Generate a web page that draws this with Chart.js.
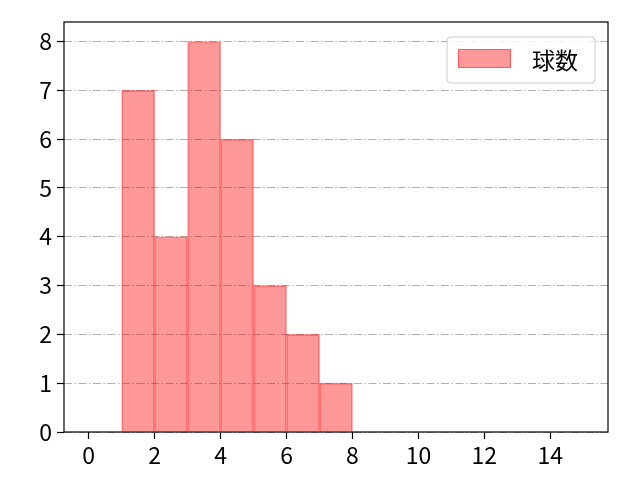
<!DOCTYPE html>
<html>
<head>
<meta charset="utf-8">
<script src="https://cdn.jsdelivr.net/npm/chart.js@4.4.1/dist/chart.umd.min.js"></script>
<style>
html,body{margin:0;padding:0;background:#fff;}
canvas{display:block;}
</style>
</head>
<body>
<canvas id="c" width="640" height="480"></canvas>
<script>
// Data
const binStarts = [1, 2, 3, 4, 5, 6, 7];
const counts = [7, 4, 8, 6, 3, 2, 1];
const seriesLabel = '球数';
const xTicks = [0, 2, 4, 6, 8, 10, 12, 14];
const yTicks = [0, 1, 2, 3, 4, 5, 6, 7, 8];
const xRange = [-0.75, 15.75];
const yRange = [0, 8.4];

const FONT = '"Noto Sans CJK JP", "Noto Sans", sans-serif';
const FSIZE = 23;
const fillCol = 'rgba(255,0,0,0.4)';
const edgeCol = 'rgba(255,0,0,0.42)';

const points = binStarts.map((s, i) => ({ x: s + 0.5, y: counts[i] }));

const framePlugin = {
  id: 'frame',
  afterDatasetsDraw(chart) {
    const { ctx, chartArea: a } = chart;
    ctx.save();
    ctx.strokeStyle = '#000';
    ctx.lineWidth = 1.2;
    ctx.strokeRect(a.left, a.top, a.right - a.left, a.bottom - a.top);
    // legend
    const w = 148, h = 46;
    const lx = a.right - 13 - w, ly = a.top + 15;
    ctx.beginPath();
    ctx.roundRect(lx, ly, w, h, 4);
    ctx.fillStyle = 'rgba(255,255,255,0.8)';
    ctx.fill();
    ctx.strokeStyle = '#cccccc';
    ctx.lineWidth = 1;
    ctx.stroke();
    ctx.fillStyle = fillCol;
    ctx.fillRect(lx + 11, ly + 12, 53, 19);
    ctx.strokeStyle = edgeCol;
    ctx.strokeRect(lx + 11.5, ly + 12.5, 52, 18);
    ctx.fillStyle = '#000';
    ctx.font = FSIZE + 'px ' + FONT;
    ctx.textBaseline = 'middle';
    ctx.textAlign = 'left';
    ctx.fillText(chart.data.datasets[0].label, lx + 85, ly + h / 2);
    ctx.restore();
  }
};

new Chart(document.getElementById('c'), {
  type: 'bar',
  data: {
    datasets: [{
      label: seriesLabel,
      data: points,
      backgroundColor: fillCol,
      borderColor: edgeCol,
      borderWidth: { top: 1, left: 1, right: 1, bottom: 0 },
      borderSkipped: false,
      barPercentage: 1,
      categoryPercentage: 1
    }]
  },
  options: {
    responsive: false,
    animation: false,
    devicePixelRatio: 1,
    layout: { padding: { top: 22, right: 32, left: 0, bottom: 0 } },
    plugins: { legend: { display: false }, tooltip: { enabled: false } },
    scales: {
      x: {
        type: 'linear',
        offset: false,
        min: xRange[0],
        max: xRange[1],
        afterBuildTicks(s) { s.ticks = xTicks.map(v => ({ value: v })); },
        afterFit(s) { s.height = 48; },
        grid: { offset: false, drawOnChartArea: false, tickLength: 7, tickColor: '#000', tickWidth: 1.2 },
        border: { display: false },
        ticks: { color: '#000', font: { family: FONT, size: FSIZE }, padding: 2, maxRotation: 0, autoSkip: false }
      },
      y: {
        type: 'linear',
        min: yRange[0],
        max: yRange[1],
        afterBuildTicks(s) { s.ticks = yTicks.map(v => ({ value: v })); },
        afterFit(s) { s.width = 64; },
        grid: { drawOnChartArea: true, color: '#b0b0b0', lineWidth: 1, tickLength: 7, tickColor: '#000', tickWidth: 1.2, tickBorderDash: [] },
        border: { display: false, dash: [8, 2.5, 1.5, 2.5] },
        ticks: { color: '#000', font: { family: FONT, size: FSIZE }, padding: 5, autoSkip: false }
      }
    }
  },
  plugins: [framePlugin]
});
</script>
</body>
</html>
